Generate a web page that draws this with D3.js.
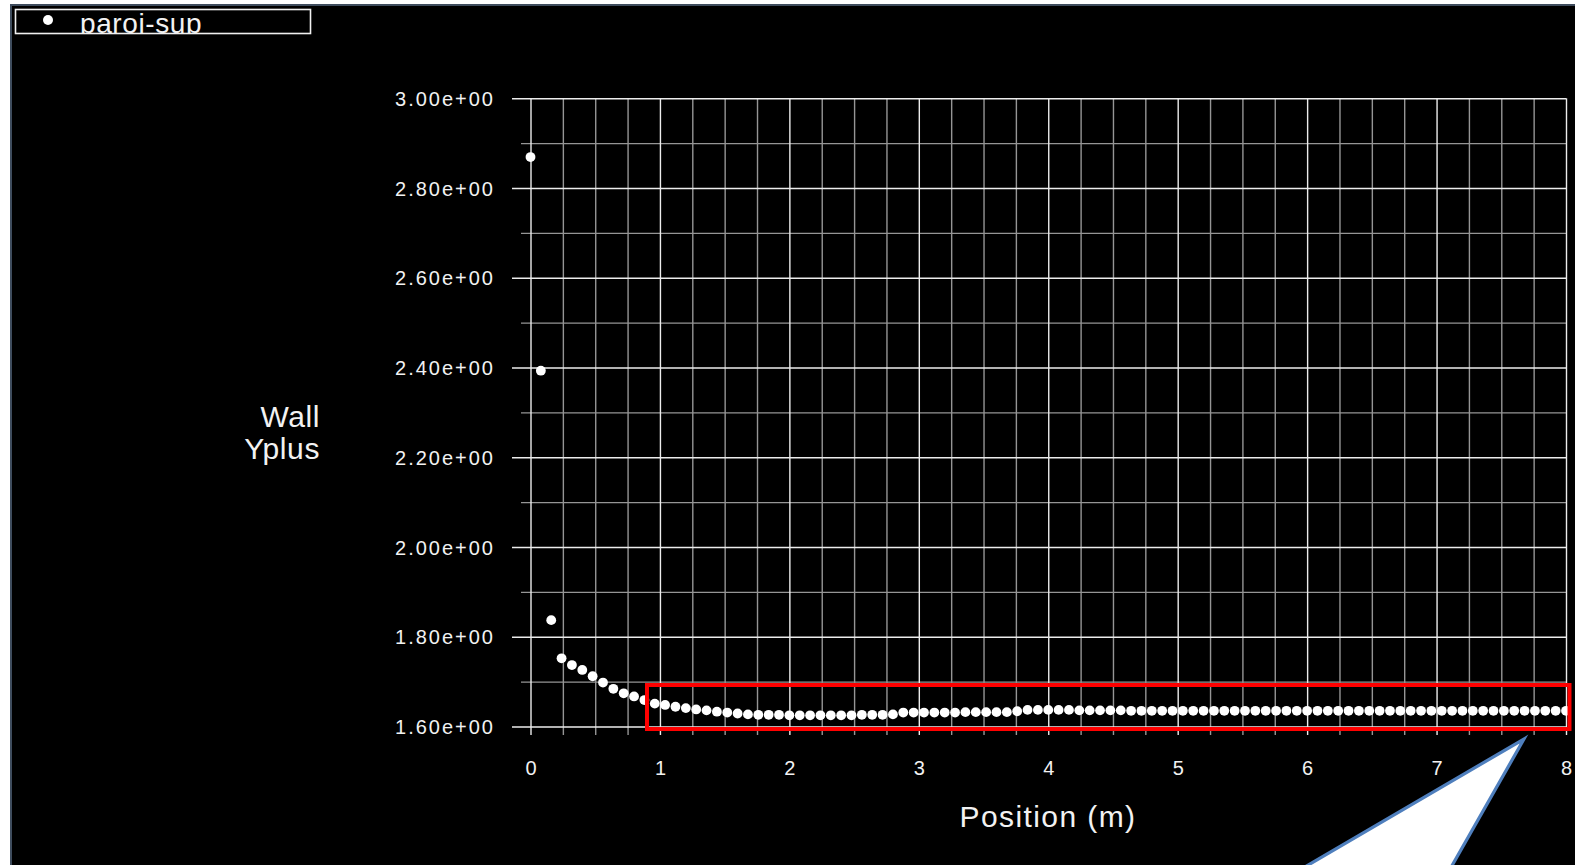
<!DOCTYPE html>
<html>
<head>
<meta charset="utf-8">
<script src="https://cdn.jsdelivr.net/npm/d3@7"></script>
<style>
  html, body { margin: 0; padding: 0; background: #fff; }
  svg { display: block; }
  .lbl { font-family: "Liberation Sans", Arial, sans-serif; fill: #f2f2f2; }
</style>
</head>
<body>
<script>
// ! Data
const seriesName = 'paroi-sup';
const positions = [
  0, 0.08, 0.16, 0.24, 0.32, 0.4, 0.48, 0.56, 0.64, 0.72,
  0.8, 0.88, 0.96, 1.04, 1.12, 1.2, 1.28, 1.36, 1.44, 1.52,
  1.6, 1.68, 1.76, 1.84, 1.92, 2, 2.08, 2.16, 2.24, 2.32,
  2.4, 2.48, 2.56, 2.64, 2.72, 2.8, 2.88, 2.96, 3.04, 3.12,
  3.2, 3.28, 3.36, 3.44, 3.52, 3.6, 3.68, 3.76, 3.84, 3.92,
  4, 4.08, 4.16, 4.24, 4.32, 4.4, 4.48, 4.56, 4.64, 4.72,
  4.8, 4.88, 4.96, 5.04, 5.12, 5.2, 5.28, 5.36, 5.44, 5.52,
  5.6, 5.68, 5.76, 5.84, 5.92, 6, 6.08, 6.16, 6.24, 6.32,
  6.4, 6.48, 6.56, 6.64, 6.72, 6.8, 6.88, 6.96, 7.04, 7.12,
  7.2, 7.28, 7.36, 7.44, 7.52, 7.6, 7.68, 7.76, 7.84, 7.92,
  8,
];
const wallYplus = [
  2.869, 2.393, 1.837, 1.752, 1.737, 1.726, 1.712, 1.698, 1.684, 1.674,
  1.667, 1.659, 1.651, 1.648, 1.644, 1.641, 1.638, 1.636, 1.633, 1.631,
  1.629, 1.627, 1.626, 1.626, 1.626, 1.625, 1.625, 1.625, 1.625, 1.625,
  1.625, 1.625, 1.626, 1.626, 1.626, 1.627, 1.631, 1.631, 1.631, 1.631,
  1.631, 1.631, 1.632, 1.632, 1.632, 1.632, 1.632, 1.634, 1.637, 1.637,
  1.637, 1.637, 1.637, 1.636, 1.636, 1.636, 1.636, 1.636, 1.635, 1.635,
  1.635, 1.635, 1.635, 1.635, 1.635, 1.635, 1.635, 1.635, 1.635, 1.635,
  1.635, 1.635, 1.635, 1.635, 1.635, 1.635, 1.635, 1.635, 1.635, 1.635,
  1.635, 1.635, 1.635, 1.635, 1.635, 1.635, 1.635, 1.635, 1.635, 1.635,
  1.635, 1.635, 1.635, 1.635, 1.635, 1.635, 1.635, 1.635, 1.635, 1.635,
  1.635,
];
const xMajorTicks = [0, 1, 2, 3, 4, 5, 6, 7, 8];
const yMajorTicks = [1.6, 1.8, 2.0, 2.2, 2.4, 2.6, 2.8, 3.0];
const xTitle = 'Position (m)';
const yTitle = ['Wall', 'Yplus'];
// highlighted zone (red box), in data units
const zoneX = [0.9, 8.027];
const zoneY = [1.5944, 1.6925];

// * Canvas
const width = 1575;
const height = 865;
const svg = d3.select('body').append('svg')
  .attr('width', width)
  .attr('height', height);

// black panel with thin slate border
svg.append('rect')
  .attr('x', 11).attr('y', 5)
  .attr('width', width).attr('height', height)
  .attr('fill', '#000')
  .attr('stroke', '#3e4c5d')
  .attr('stroke-width', 2);

// * Scales
const x = d3.scaleLinear().domain([0, 8]).range([530.5, 1566]);
const y = d3.scaleLinear().domain([1.6, 3.0]).range([726.5, 98.3]);
const xMinor = d3.range(0, 8.001, 0.25).filter((v) => !xMajorTicks.includes(v));
const yMinor = [1.7, 1.9, 2.1, 2.3, 2.5, 2.7, 2.9];
const right = x(8);
const axisBottomY = 735;

// ! Grid via axes
function styleGrid(g, color) {
  g.select('.domain').remove();
  g.selectAll('.tick line').attr('stroke', color).attr('stroke-width', 1.4);
}

svg.append('g')
  .attr('transform', 'translate(521,0)')
  .call(d3.axisLeft(y).tickValues(yMinor).tickSize(-(right - 521)).tickFormat(''))
  .call((g) => styleGrid(g, '#959595'));

svg.append('g')
  .attr('transform', `translate(0,${axisBottomY})`)
  .call(d3.axisBottom(x).tickValues(xMinor).tickSize(-(axisBottomY - y(3.0))).tickFormat(''))
  .call((g) => styleGrid(g, '#959595'));

const yAxis = svg.append('g')
  .attr('transform', 'translate(512,0)')
  .call(d3.axisLeft(y).tickValues(yMajorTicks).tickSize(-(right - 512))
    .tickPadding(17).tickFormat((d) => d3.format('.2f')(d) + 'e+00'))
  .call((g) => styleGrid(g, '#ececec'));
yAxis.selectAll('.tick text')
  .attr('class', 'lbl')
  .attr('font-size', 20)
  .attr('letter-spacing', 2)
  .attr('dy', '0.35em');

const xAxis = svg.append('g')
  .attr('transform', `translate(0,${axisBottomY})`)
  .call(d3.axisBottom(x).tickValues(xMajorTicks).tickSize(-(axisBottomY - y(3.0)))
    .tickPadding(26).tickFormat(d3.format('d')))
  .call((g) => styleGrid(g, '#ececec'));
xAxis.selectAll('.tick text')
  .attr('class', 'lbl')
  .attr('font-size', 20);

// * Axis titles
const yt = svg.append('text')
  .attr('class', 'lbl')
  .attr('text-anchor', 'end')
  .attr('font-size', 30)
  .attr('letter-spacing', 0.6);
yTitle.forEach((t, i) => {
  yt.append('tspan').attr('x', 320).attr('y', 427 + i * 32).text(t);
});

svg.append('text')
  .attr('class', 'lbl')
  .attr('x', 1048)
  .attr('y', 827)
  .attr('text-anchor', 'middle')
  .attr('font-size', 30)
  .attr('letter-spacing', 1.4)
  .text(xTitle);

// * Data points
svg.append('g')
  .selectAll('circle')
  .data(positions.map((p, i) => [p, wallYplus[i]]))
  .join('circle')
  .attr('cx', (d) => x(d[0]))
  .attr('cy', (d) => y(d[1]))
  .attr('r', 4.9)
  .attr('fill', '#fff');

// * Legend
svg.append('clipPath').attr('id', 'legclip')
  .append('rect').attr('x', 15).attr('y', 9).attr('width', 296).attr('height', 25);
svg.append('circle').attr('cx', 48).attr('cy', 20).attr('r', 5).attr('fill', '#fff');
svg.append('text')
  .attr('class', 'lbl')
  .attr('clip-path', 'url(#legclip)')
  .attr('x', 80)
  .attr('y', 33)
  .attr('font-size', 28)
  .attr('letter-spacing', 0.6)
  .text(seriesName);
svg.append('rect')
  .attr('x', 15.5).attr('y', 9.5)
  .attr('width', 295).attr('height', 24)
  .attr('fill', 'none')
  .attr('stroke', '#f0f0f0')
  .attr('stroke-width', 1.6);

// ! Highlight box
svg.append('rect')
  .attr('x', x(zoneX[0]))
  .attr('y', y(zoneY[1]))
  .attr('width', x(zoneX[1]) - x(zoneX[0]))
  .attr('height', y(zoneY[0]) - y(zoneY[1]))
  .attr('fill', 'none')
  .attr('stroke', '#ff0000')
  .attr('stroke-width', 4);

// ! Callout pointer
svg.append('path')
  .attr('d', 'M1524,739 L1441,885 L1274,885 Z')
  .attr('fill', '#fff')
  .attr('stroke', '#4f7fbd')
  .attr('stroke-width', 3.2)
  .attr('stroke-linejoin', 'miter');
</script>
</body>
</html>
